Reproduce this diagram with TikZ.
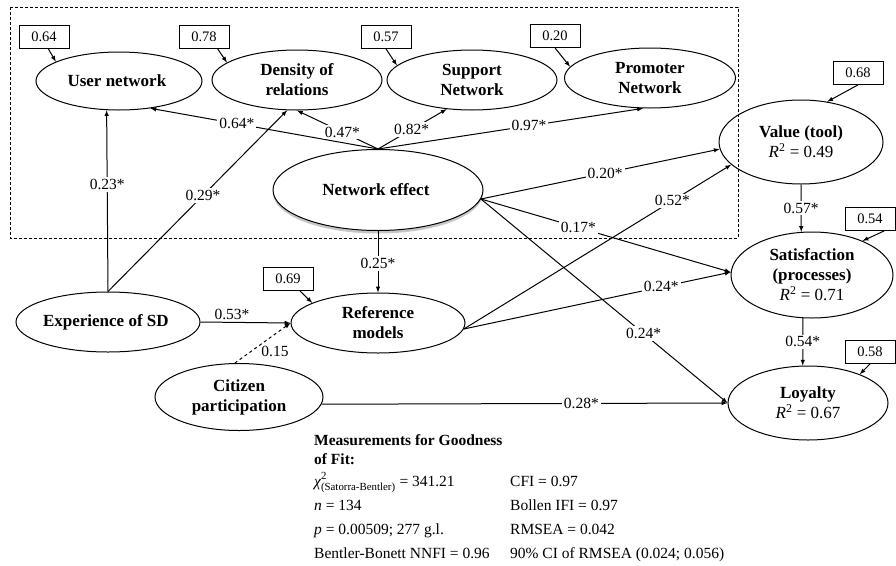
\documentclass[tikz,border=0pt]{standalone}
\usepackage{fontspec}
\setmainfont{Liberation Serif}
\usetikzlibrary{shapes.geometric,shadows}
\newcommand{\rsq}[1]{{\normalfont\textit{R}\textsuperscript{2} = #1}}

\begin{document}
\begin{tikzpicture}[x=1pt,y=-1pt]
\tikzstyle{main}=[ellipse, draw=black, line width=1pt, inner sep=0pt, align=center, font=\fontsize{17}{20}\selectfont\bfseries]
\tikzstyle{connect}=[-latex, line width=1pt]
\tikzstyle{box}=[rectangle, draw=black!100, line width=0.8pt, minimum width=50pt, minimum height=23pt, inner sep=0pt, font=\fontsize{14.5}{16}\selectfont]
\tikzstyle{coef}=[fill=white, inner sep=2pt, font=\fontsize{15.5}{17}\selectfont]
  \useasboundingbox (0,0) rectangle (896,565);
  \draw[dash pattern=on 3pt off 2pt, line width=0.8pt] (10,7) rectangle (738,238);

  \node[main, minimum width=166pt, minimum height=58pt] (user) at (119,81) { User network };
  \node[main, minimum width=170pt, minimum height=60pt] (dens) at (297,80) { Density of\\relations };
  \node[main, minimum width=170pt, minimum height=60pt] (supp) at (472,80) { Support\\Network };
  \node[main, minimum width=171pt, minimum height=60pt] (prom) at (650,78) { Promoter\\Network };
  \node[main, minimum width=210pt, minimum height=81pt, fill=white,
        drop shadow={shadow xshift=0pt, shadow yshift=-3pt, fill=gray!45, opacity=1}] (neff) at (378,190) { Network effect };
  \node[main, minimum width=164pt, minimum height=84pt] (val) at (801,142) { Value (tool)\\\rsq{0.49} };
  \node[main, minimum width=162pt, minimum height=86pt] (sat) at (812,275) { Satisfaction\\(processes)\\\rsq{0.71} };
  \node[main, minimum width=160pt, minimum height=74pt] (loy) at (808,403) { Loyalty\\\rsq{0.67} };
  \node[main, minimum width=184pt, minimum height=60pt] (exp) at (108,322) { Experience of SD };
  \node[main, minimum width=174pt, minimum height=60pt] (ref) at (378,323) { Reference\\models };
  \node[main, minimum width=168pt, minimum height=67pt] (cit) at (239,397) { Citizen\\participation };

  \node[box] (ruser) at (44,37) { 0.64 };
  \node[box] (rdens) at (204,37) { 0.78 };
  \node[box] (rsupp) at (386,37) { 0.57 };
  \node[box] (rprom) at (555,36) { 0.20 };
  \node[box] (rval) at (858,73) { 0.68 };
  \node[box] (rsat) at (870,219) { 0.54 };
  \node[box] (rloy) at (870,352) { 0.58 };
  \node[box] (rref) at (288,279) { 0.69 };

  \path (ruser.-70) edge [connect] (user.163);
  \path (rdens.-41) edge [connect] (dens.166);
  \path (rsupp.south) edge [connect] (supp.169);
  \path (rprom.south) edge [connect] (prom.172);
  \path (rval.south) edge [connect] (val.57);
  \path (rsat.-40) edge [connect] (sat.34);
  \path (rloy.south) edge [connect] (loy.29);
  \path (rref.-45) edge [connect] (ref.163);

  \path (neff.north) edge [connect] node[coef, pos=0.62] {0.64*} (user.-41);
  \path (neff.north) edge [connect] node[coef, pos=0.44] {0.47*} (dens.south);
  \path (neff.north) edge [connect] node[coef, pos=0.49] {0.82*} (supp.-131);
  \path (neff.north) edge [connect] node[coef, pos=0.57] {0.97*} (prom.-103);
  \path (exp.north) edge [connect] node[coef, pos=0.59] {0.23*} (user.-113);
  \path (exp.north) edge [connect] node[coef, pos=0.53] {0.29*} (dens.-108);
  \path (exp.east) edge [connect] node[coef, fill=none, above, pos=0.35] {0.53*} (ref.west);
  \path (cit.97) edge [connect, dashed] node[coef, fill=none, below right, inner sep=1pt, pos=0.45] {0.15} (ref.west);
  \path (neff.south) edge [connect] node[coef, pos=0.53] {0.25*} (ref.north);
  \path (neff.-5) edge [connect] node[coef, pos=0.52] {0.20*} (val.-175);
  \path (neff.-5) edge [connect] node[coef, pos=0.39] {0.17*} (sat.178);
  \path (neff.-5) edge [connect] node[coef, pos=0.66] {0.24*} (loy.west);
  \path (ref.-4) edge [connect] node[coef, pos=0.78] {0.52*} (val.198);
  \path (ref.-4) edge [connect] node[coef, pos=0.74] {0.24*} (sat.178);
  \path (val.south) edge [connect] node[coef, pos=0.5] {0.57*} (sat.104);
  \path (sat.-102) edge [connect] node[coef, pos=0.5] {0.54*} (loy.98);
  \path (cit.-5) edge [connect] node[coef, pos=0.64] {0.28*} (loy.west);

  \node[anchor=north west, inner sep=0pt, font=\fontsize{15.5}{19}\selectfont] (gof) at (314,432) {%
    \begin{tabular}{@{}p{196pt}@{}l@{}}
    \multicolumn{2}{@{}l@{}}{\bfseries Measurements for Goodness}\\
    \multicolumn{2}{@{}l@{}}{\bfseries of Fit:}\\[2pt]
    {\itshape χ}\rlap{\raisebox{2pt}{\textsuperscript{2}}}\raisebox{-1pt}{\textsubscript{(Satorra-Bentler)}} = 341.21 & CFI = 0.97\\[5pt]
    \textit{n} = 134 & Bollen IFI = 0.97\\[5pt]
    \textit{p} = 0.00509; 277 g.l. & RMSEA = 0.042\\[5pt]
    Bentler-Bonett NNFI = 0.96 & 90\% CI of RMSEA (0.024; 0.056)
    \end{tabular}};
\end{tikzpicture}
\end{document}
